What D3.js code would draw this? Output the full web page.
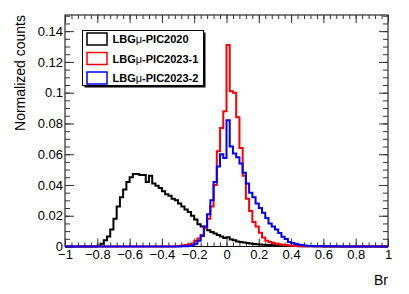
<!DOCTYPE html>
<html lang="en">
<head>
<meta charset="UTF-8">
<title>Br distributions</title>
<style>
  body { margin: 0; background: #fff; }
  text { font-family: "Liberation Sans", Arial, Helvetica, sans-serif; }
</style>
</head>
<body>
<div id="my_dataviz"></div>
<script src="https://d3js.org/d3.v7.min.js"></script>
<script>
// histogram binning: 100 bins of 0.02 from -1 to 1
var binLow = -1, binWidth = 0.02;

// LBGmu-PIC2020 (black)
var pic2020 = [
  0, 0, 0, 0, 0, 0, 0, 0, 0, 0,
  0.0005, 0.0018, 0.004, 0.0065, 0.011, 0.018, 0.026, 0.032, 0.037, 0.042,
  0.045, 0.0472, 0.0472, 0.0465, 0.0465, 0.042, 0.046, 0.041, 0.0395, 0.038,
  0.036, 0.034, 0.033, 0.031, 0.030, 0.028, 0.026, 0.024, 0.0225, 0.020,
  0.0175, 0.0145, 0.013, 0.012, 0.0105, 0.0095, 0.0085, 0.0075, 0.0065, 0.0055,
  0.006, 0.0045, 0.004, 0.0032, 0.003, 0.0026, 0.0022, 0.002, 0.0017, 0.0015,
  0.0013, 0.0012, 0.001, 0.0009, 0.0008, 0.0007, 0.0006, 0.0005, 0.0004, 0.0004,
  0.0003, 0.0003, 0.0002, 0.0002, 0.0002, 0.0001, 0.0001, 0.0001, 0.0001, 0.0001,
  0, 0, 0, 0, 0, 0, 0, 0, 0, 0,
  0, 0, 0, 0, 0, 0, 0, 0, 0, 0
];

// LBGmu-PIC2023-1 (red)
var pic2023a = [
  0, 0, 0, 0, 0, 0, 0, 0, 0, 0,
  0, 0, 0, 0, 0, 0, 0, 0, 0, 0,
  0, 0, 0, 0, 0, 0, 0, 0, 0, 0,
  0, 0, 0, 0, 0.0002, 0.0004, 0.0006, 0.0009, 0.0013, 0.002,
  0.0035, 0.0052, 0.0075, 0.012, 0.018, 0.026, 0.040, 0.062, 0.077, 0.088,
  0.131, 0.101, 0.100, 0.084, 0.064, 0.046, 0.031, 0.023, 0.016, 0.013,
  0.009, 0.0058, 0.0038, 0.003, 0.0022, 0.0018, 0.0014, 0.0011, 0.0009, 0.0007,
  0.0005, 0.0004, 0.0003, 0.0002, 0.0002, 0.0001, 0.0001, 0.0001, 0.0001, 0.0001,
  0, 0, 0, 0, 0, 0, 0, 0, 0, 0,
  0, 0, 0, 0, 0, 0, 0, 0, 0, 0
];

// LBGmu-PIC2023-2 (blue)
var pic2023b = [
  0, 0, 0, 0, 0, 0, 0, 0, 0, 0,
  0, 0, 0, 0, 0, 0, 0, 0, 0, 0,
  0, 0, 0, 0, 0, 0, 0, 0, 0, 0,
  0, 0, 0, 0, 0, 0, 0.0001, 0.0002, 0.0004, 0.0008,
  0.0018, 0.0038, 0.0068, 0.013, 0.021, 0.030, 0.042, 0.052, 0.060, 0.0575,
  0.082, 0.065, 0.0605, 0.058, 0.054, 0.048, 0.041, 0.035, 0.032, 0.028,
  0.025, 0.022, 0.0185, 0.015, 0.013, 0.011, 0.0087, 0.0064, 0.0048, 0.003,
  0.0022, 0.0017, 0.0012, 0.0009, 0.0006, 0.0004, 0.0003, 0.0002, 0.0002, 0.0001,
  0.0001, 0.0001, 0.0001, 0.0001, 0.0001, 0, 0, 0, 0, 0,
  0, 0, 0, 0, 0, 0, 0, 0, 0, 0
];

var seriesNames = ["PIC2020", "PIC2023-1", "PIC2023-2"];
var seriesColors = ["#000000", "#ff0000", "#0000ff"];
var xMajorTicks = [-1, -0.8, -0.6, -0.4, -0.2, 0, 0.2, 0.4, 0.6, 0.8, 1];
var yMajorTicks = [0, 0.02, 0.04, 0.06, 0.08, 0.1, 0.12, 0.14];

const W = 409, H = 294;
const frame = { left: 65, right: 388, top: 15, bottom: 246.5 };

var svg = d3.select("#my_dataviz").append("svg")
    .attr("width", W)
    .attr("height", H);

var x = d3.scaleLinear().domain([-1, 1]).range([frame.left, frame.right]);
var y = d3.scaleLinear().domain([0, 0.1505]).range([frame.bottom, frame.top]);

var fmt = d3.format("~g");
var xMinor = d3.range(-1, 1.0001, 0.04).map(function (d) { return +d.toFixed(2); });
var yMinor = d3.range(0, 0.1505, 0.005).map(function (d) { return +d.toFixed(3); });

// frame
svg.append("rect")
    .attr("x", frame.left).attr("y", frame.top)
    .attr("width", frame.right - frame.left).attr("height", frame.bottom - frame.top)
    .attr("fill", "none").attr("stroke", "#000").attr("stroke-width", 1);

// bottom axis (ticks point up, into the frame)
svg.append("g").attr("transform", `translate(0,${frame.bottom})`)
    .call(d3.axisBottom(x).tickValues(xMinor).tickSize(-4).tickFormat(""))
    .call(g => g.select(".domain").remove());
svg.append("g").attr("class", "xaxis").attr("transform", `translate(0,${frame.bottom})`)
    .call(d3.axisBottom(x).tickValues(xMajorTicks).tickSize(-8).tickPadding(3).tickFormat(fmt))
    .call(g => g.select(".domain").remove());

// top axis ticks
svg.append("g").attr("transform", `translate(0,${frame.top})`)
    .call(d3.axisTop(x).tickValues(xMinor).tickSize(-4).tickFormat(""))
    .call(g => g.select(".domain").remove());
svg.append("g").attr("transform", `translate(0,${frame.top})`)
    .call(d3.axisTop(x).tickValues(xMajorTicks).tickSize(-8).tickFormat(""))
    .call(g => g.select(".domain").remove());

// left axis
svg.append("g").attr("transform", `translate(${frame.left},0)`)
    .call(d3.axisLeft(y).tickValues(yMinor).tickSize(-5).tickFormat(""))
    .call(g => g.select(".domain").remove());
svg.append("g").attr("class", "yaxis").attr("transform", `translate(${frame.left},0)`)
    .call(d3.axisLeft(y).tickValues(yMajorTicks).tickSize(-9).tickPadding(2).tickFormat(fmt))
    .call(g => g.select(".domain").remove());

// right axis ticks
svg.append("g").attr("transform", `translate(${frame.right},0)`)
    .call(d3.axisRight(y).tickValues(yMinor).tickSize(-5).tickFormat(""))
    .call(g => g.select(".domain").remove());
svg.append("g").attr("transform", `translate(${frame.right},0)`)
    .call(d3.axisRight(y).tickValues(yMajorTicks).tickSize(-9).tickFormat(""))
    .call(g => g.select(".domain").remove());

svg.selectAll(".tick line").attr("stroke", "#333");
svg.selectAll(".xaxis text, .yaxis text")
    .attr("font-size", 13)
    .attr("font-family", "Liberation Sans, Arial, sans-serif")
    .attr("fill", "#000");

// axis titles
svg.append("text")
    .attr("x", frame.right).attr("y", 285)
    .attr("text-anchor", "end")
    .attr("font-size", 14)
    .text("Br");
svg.append("text")
    .attr("transform", `translate(25,${frame.top}) rotate(-90)`)
    .attr("text-anchor", "end")
    .attr("font-size", 14)
    .text("Normalized counts");

// histograms as step lines
function stepPoints(vals) {
    var pts = vals.map(function (v, i) { return [binLow + i * binWidth, v]; });
    pts.push([binLow + vals.length * binWidth, vals[vals.length - 1]]);
    return pts;
}
var line = d3.line()
    .x(function (d) { return x(d[0]); })
    .y(function (d) { return y(d[1]); })
    .curve(d3.curveStepAfter);

[pic2020, pic2023a, pic2023b].forEach(function (vals, i) {
    svg.append("path")
        .datum(stepPoints(vals))
        .attr("d", line)
        .attr("fill", "none")
        .attr("stroke", seriesColors[i])
        .attr("stroke-width", 2)
        .attr("stroke-linejoin", "miter");
});

// legend
var lg = svg.append("g");
lg.append("rect")
    .attr("x", 84.5).attr("y", 32.5).attr("width", 121).attr("height", 55)
    .attr("fill", "#000");
lg.append("rect")
    .attr("x", 82.5).attr("y", 30.5).attr("width", 121).attr("height", 55)
    .attr("fill", "#fff").attr("stroke", "#000").attr("stroke-width", 1);

seriesNames.forEach(function (name, i) {
    var cy = 39 + i * 19.5;
    lg.append("rect")
        .attr("x", 87).attr("y", cy - 6)
        .attr("width", 20).attr("height", 12)
        .attr("fill", "none")
        .attr("stroke", seriesColors[i])
        .attr("stroke-width", 1.5);
    var t = lg.append("text")
        .attr("x", 112.5).attr("y", cy + 4)
        .attr("font-size", 11)
        .attr("font-weight", "bold");
    t.append("tspan").text("LBG");
    t.append("tspan").attr("font-weight", "normal").text("\u03bc");
    t.append("tspan").text("-" + name);
});
</script>
</body>
</html>
